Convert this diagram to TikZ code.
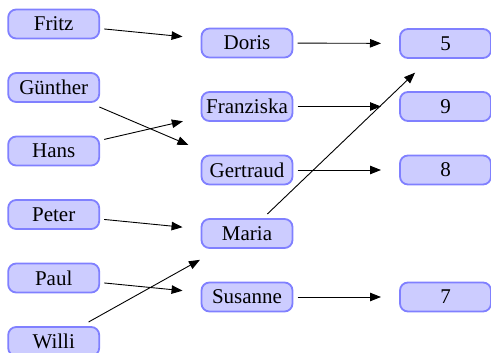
\documentclass[tikz,border=0pt]{standalone}
\usepackage{fontspec}
\setmainfont{Liberation Serif}
\newfontfamily\lserif{LiberationSerif-Regular.ttf}
\usetikzlibrary{arrows.meta}
\tikzset{
  namebox/.style={draw=blue!50, fill=blue!20, line width=1.8pt, rounded corners=8pt,
    minimum width=91pt, minimum height=29pt, inner sep=0pt, outer sep=5pt,
    font=\lserif\fontsize{21}{25}\selectfont},
  maparrow/.style={line width=0.9pt, -{Triangle[length=11pt,width=8.5pt]}, shorten >=14pt}
}
\begin{document}
\begin{tikzpicture}[x=1pt,y=-1pt]
\useasboundingbox (0,0) rectangle (491,353);
% left column
\node[namebox] (Fritz)   at (53.7,24)    {Fritz};
\node[namebox] (Guenther) at (53.7,87.5) {Günther};
\node[namebox] (Hans)    at (53.7,151)   {Hans};
\node[namebox] (Peter)   at (53.7,214.5) {Peter};
\node[namebox] (Paul)    at (53.7,278)   {Paul};
\node[namebox] (Willi)   at (53.7,341.5) {Willi};
% middle column
\node[namebox] (Doris)     at (247,43)    {Doris};
\node[namebox] (Franziska) at (247,106.5) {Franziska};
\node[namebox] (Gertraud)  at (247,170)   {Gertraud};
\node[namebox] (Maria)     at (247,233.5) {Maria};
\node[namebox] (Susanne)   at (247,297)   {Susanne};
% right column
\node[namebox] (five)  at (445.5,43.5)  {5};
\node[namebox] (nine)  at (445.5,106.5) {9};
\node[namebox] (eight) at (445.5,170)   {8};
\node[namebox] (seven) at (445.5,297)   {7};
% arrows
\draw[maparrow] (Fritz) -- (Doris);
\draw[maparrow] (Guenther) -- (Gertraud);
\draw[maparrow] (Hans) -- (Franziska);
\draw[maparrow] (Peter) -- (Maria);
\draw[maparrow] (Paul) -- (Susanne);
\draw[maparrow] (Willi) -- (Maria);
\draw[maparrow] (Doris) -- (five);
\draw[maparrow] (Franziska) -- (nine);
\draw[maparrow] (Gertraud) -- (eight);
\draw[maparrow] (Maria) -- (five);
\draw[maparrow] (Susanne) -- (seven);
\end{tikzpicture}
\end{document}
